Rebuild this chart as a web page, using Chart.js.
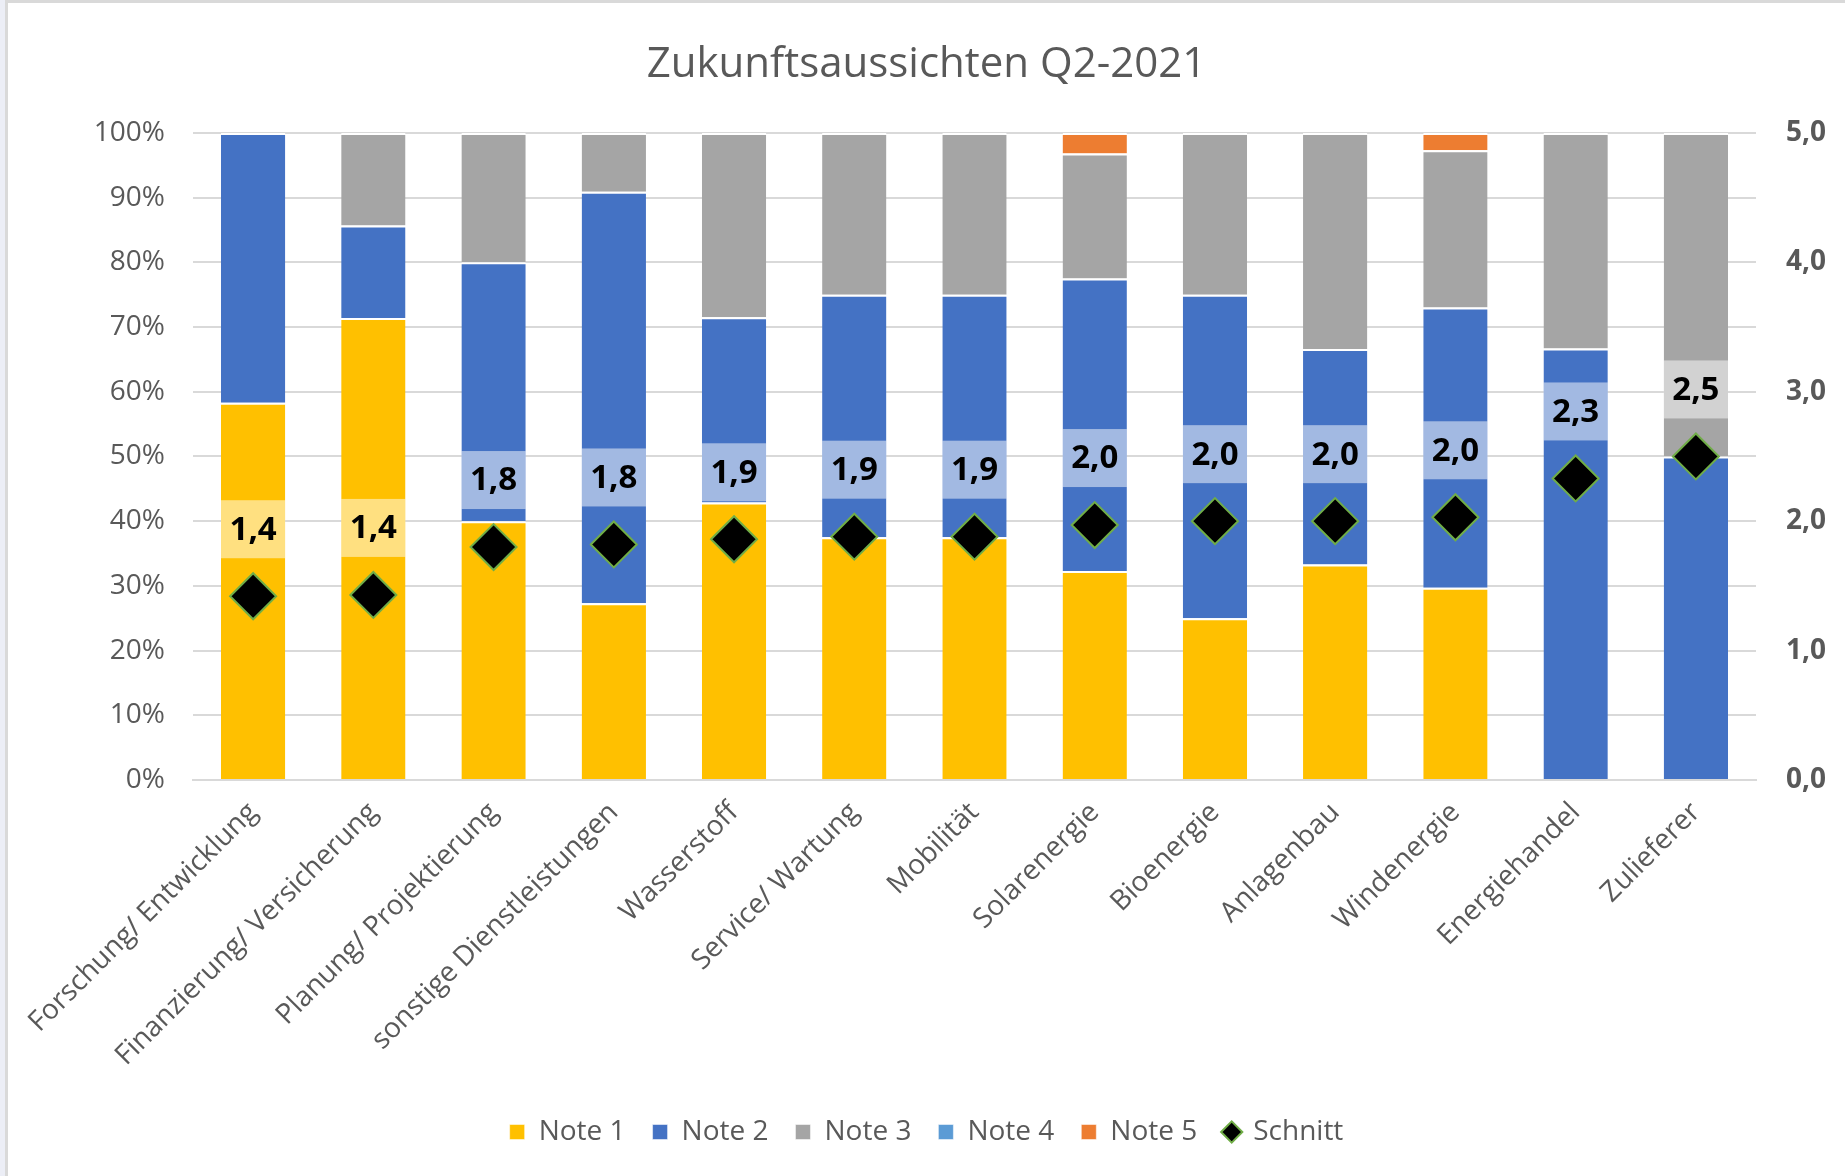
<!DOCTYPE html>
<html>
<head>
<meta charset="UTF-8">
<title>Zukunftsaussichten Q2-2021</title>
<script src="https://cdn.jsdelivr.net/npm/chart.js"></script>
<style>
    body, html {
        margin: 0;
        padding: 0;
        background: #fff;
    }
    .frame {
        position: absolute;
        left: 0;
        top: 0;
        width: 1840px;
        height: 1176px;
        border-left: 5px solid #eceef6;
    }
    .inner {
        width: 1837px;
        height: 1173px;
        border-left: 3px solid #d9d9d9;
        border-top: 3px solid #d9d9d9;
    }
</style>
</head>
<body>
<div class="frame"><div class="inner">
    <canvas id="chart" width="1837" height="1173"></canvas>
</div></div>

<script>
    // Anteile in Prozent je Branche
    const branchen = ['Forschung/ Entwicklung', 'Finanzierung/ Versicherung', 'Planung/ Projektierung',
        'sonstige Dienstleistungen', 'Wasserstoff', 'Service/ Wartung', 'Mobilität', 'Solarenergie',
        'Bioenergie', 'Anlagenbau', 'Windenergie', 'Energiehandel', 'Zulieferer'];
    const note1 = [58.3, 71.4, 40.0, 27.3, 42.9, 37.5, 37.5, 32.3, 25.0, 33.3, 29.7, 0, 0];
    const note2 = [41.7, 14.3, 40.0, 63.6, 28.6, 37.5, 37.5, 45.2, 50.0, 33.3, 43.3, 66.7, 50.0];
    const note3 = [0, 14.3, 20.0, 9.1, 28.5, 25.0, 25.0, 19.3, 25.0, 33.4, 24.3, 33.3, 50.0];
    const note4 = [0, 0, 0, 0, 0, 0, 0, 0, 0, 0, 0, 0, 0];
    const note5 = [0, 0, 0, 0, 0, 0, 0, 3.2, 0, 0, 2.7, 0, 0];
    const schnitt = [1.42, 1.43, 1.80, 1.82, 1.86, 1.88, 1.88, 1.97, 2.00, 2.00, 2.03, 2.33, 2.50];

    const grau = '#595959';
    Chart.defaults.font.family = '"Open Sans", sans-serif';
    Chart.defaults.color = grau;

    function balken(label, data, color) {
        return {
            label: label,
            data: data,
            backgroundColor: color,
            borderColor: '#ffffff',
            borderWidth: { top: 2, left: 0, right: 0, bottom: 0 },
            borderSkipped: false,
            pointStyle: 'rect',
            barPercentage: 0.535,
            categoryPercentage: 1,
            yAxisID: 'y',
            order: 1
        };
    }

    // Beschriftung der Schnittwerte mit halbtransparentem Kasten
    const schnittLabels = {
        id: 'schnittLabels',
        afterDatasetsDraw(chart) {
            const ctx = chart.ctx;
            const pts = chart.getDatasetMeta(5).data;
            const bars = chart.getDatasetMeta(0).data;
            ctx.save();
            ctx.font = 'bold 33px "Open Sans", sans-serif';
            ctx.textAlign = 'center';
            ctx.textBaseline = 'middle';
            pts.forEach((pt, i) => {
                const w = bars[i].width;
                const cy = pt.y - 67;
                ctx.fillStyle = 'rgba(255, 255, 255, 0.5)';
                ctx.fillRect(pt.x - w / 2, cy - 29, w, 58);
                ctx.fillStyle = '#000000';
                ctx.fillText(schnitt[i].toFixed(1).replace('.', ','), pt.x, cy + 1);
            });
            ctx.restore();
        }
    };

    new Chart(document.getElementById('chart'), {
        type: 'bar',
        data: {
            labels: branchen,
            datasets: [
                balken('Note 1', note1, '#FFC000'),
                balken('Note 2', note2, '#4472C4'),
                balken('Note 3', note3, '#A5A5A5'),
                balken('Note 4', note4, '#5B9BD5'),
                balken('Note 5', note5, '#ED7D31'),
                {
                    type: 'line',
                    label: 'Schnitt',
                    data: schnitt,
                    showLine: false,
                    yAxisID: 'y2',
                    pointStyle: 'rectRot',
                    pointRadius: 23,
                    pointHoverRadius: 23,
                    pointBorderWidth: 2,
                    pointBackgroundColor: '#000000',
                    pointBorderColor: '#70AD47',
                    backgroundColor: '#000000',
                    borderColor: '#70AD47',
                    order: 0
                }
            ]
        },
        options: {
            responsive: false,
            animation: false,
            layout: { padding: { left: 0, right: 0, top: 0, bottom: 20 } },
            plugins: {
                title: {
                    display: true,
                    text: 'Zukunftsaussichten Q2-2021',
                    color: grau,
                    font: { size: 42, weight: 'normal' },
                    padding: { top: 37, bottom: 42.5 }
                },
                legend: {
                    position: 'bottom',
                    labels: {
                        usePointStyle: true,
                        boxWidth: 15,
                        boxHeight: 15,
                        padding: 27,
                        color: grau,
                        font: { size: 28 },
                        sort: (a, b) => a.datasetIndex - b.datasetIndex
                    }
                },
                tooltip: { enabled: false }
            },
            scales: {
                x: {
                    stacked: true,
                    grid: { display: false },
                    border: { display: true, color: '#d9d9d9', width: 2 },
                    ticks: {
                        autoSkip: false,
                        minRotation: 45,
                        maxRotation: 45,
                        padding: 8,
                        color: grau,
                        font: { size: 28 }
                    },
                    afterFit(scale) { scale.height = 311; }
                },
                y: {
                    stacked: true,
                    min: 0,
                    max: 100,
                    grid: { color: '#d9d9d9', lineWidth: 2, drawTicks: false },
                    border: { display: false },
                    ticks: {
                        stepSize: 10,
                        padding: 28,
                        color: grau,
                        font: { size: 28 },
                        callback: v => v + '%'
                    },
                    afterFit(scale) { scale.width = 185; }
                },
                y2: {
                    position: 'right',
                    min: 0,
                    max: 5,
                    grid: { display: false, drawTicks: false },
                    border: { display: false },
                    ticks: {
                        stepSize: 1,
                        padding: 30,
                        color: grau,
                        font: { size: 28, weight: 'bold' },
                        callback: v => v.toFixed(1).replace('.', ',')
                    },
                    afterFit(scale) { scale.width = 89; }
                }
            }
        },
        plugins: [schnittLabels]
    });
</script>
</body>
</html>
